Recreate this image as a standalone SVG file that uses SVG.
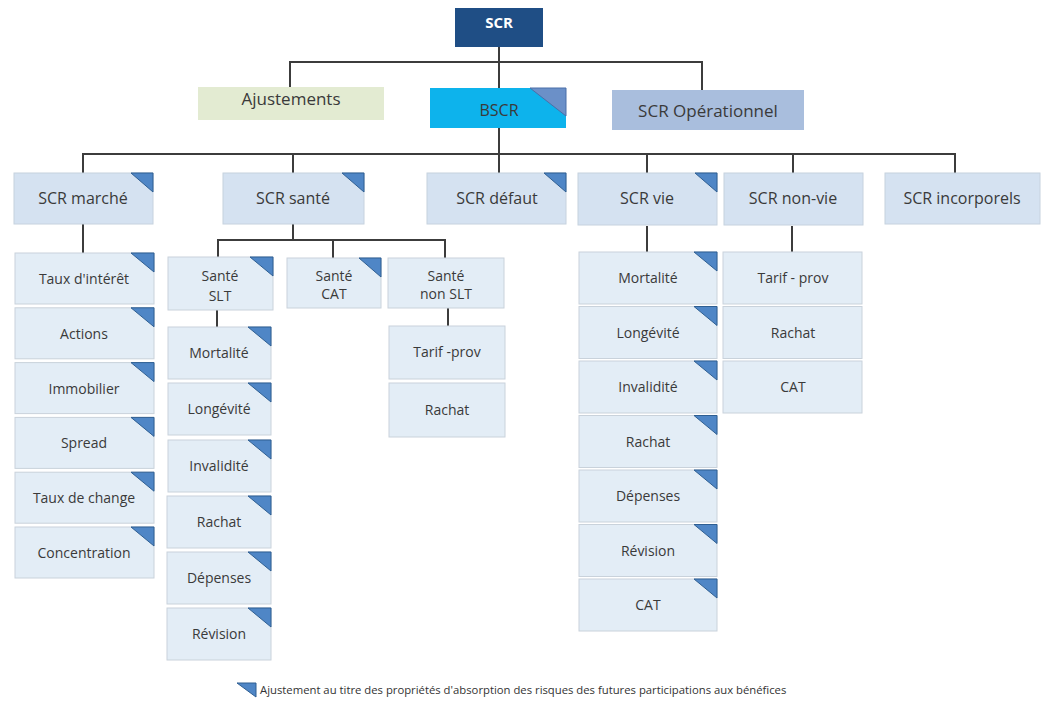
<svg xmlns="http://www.w3.org/2000/svg" width="1045" height="706" viewBox="0 0 1045 706">
<style>
text{font-family:"Open Sans","Liberation Sans",sans-serif;fill:#3a3a3a;text-anchor:middle}
.t1{font-size:17px}
.t2{font-size:16px}
.t3{font-size:14px}
.top{fill:#1f4e85}
.l2{fill:#d5e2f1;stroke:#c6d2de;stroke-width:1}
.leaf{fill:#e3edf6;stroke:#c9d2db;stroke-width:1}
.tri{fill:#4f86c6;stroke:#2f5f92;stroke-width:1}
.con line{stroke:#3c3c3c;stroke-width:2;fill:none}
</style>
<rect width="1045" height="706" fill="#ffffff"/>
<g class="con">
<line x1="499" y1="47" x2="499" y2="88"/>
<line x1="289" y1="62" x2="703" y2="62"/>
<line x1="290" y1="61" x2="290" y2="87"/>
<line x1="702" y1="61" x2="702" y2="90"/>
<line x1="499" y1="128" x2="499" y2="173"/>
<line x1="82" y1="154" x2="956" y2="154"/>
<line x1="83" y1="153" x2="83" y2="173"/>
<line x1="293" y1="153" x2="293" y2="173"/>
<line x1="647" y1="153" x2="647" y2="173"/>
<line x1="793" y1="153" x2="793" y2="173"/>
<line x1="955" y1="153" x2="955" y2="173"/>
<line x1="83" y1="224" x2="83" y2="253"/>
<line x1="293" y1="224" x2="293" y2="240"/>
<line x1="217" y1="240" x2="446" y2="240"/>
<line x1="218" y1="239" x2="218" y2="257"/>
<line x1="333" y1="239" x2="333" y2="258"/>
<line x1="445" y1="239" x2="445" y2="258"/>
<line x1="217" y1="310" x2="217" y2="327"/>
<line x1="448" y1="308" x2="448" y2="326"/>
<line x1="647" y1="226" x2="647" y2="252"/>
<line x1="792" y1="226" x2="792" y2="252"/>
</g>
<g id="scr"><rect class="top" x="455" y="8" width="88" height="39"/><text x="499" y="28" style="font-size:15px;font-weight:bold;fill:#ffffff">SCR</text></g>
<g id="ajustements"><rect x="198" y="87" width="186" height="33" fill="#e3ebd2"/><text class="t1" x="291" y="105">Ajustements</text></g>
<g id="bscr"><rect x="430" y="88" width="136" height="40" fill="#0db3ec"/><polygon points="530,88 566,88 566,116" fill="#6b90c8" stroke="#4a6fa8" stroke-width="1"/><text class="t2" x="499" y="116">BSCR</text></g>
<g id="scr-op"><rect x="612" y="90" width="192" height="40" fill="#a9bedd"/><text class="t1" x="708" y="117">SCR Opérationnel</text></g>

<g id="scr-marche"><rect class="l2" x="14" y="173" width="139" height="51"/><polygon class="tri" points="131,173 153,173 153,192"/><text class="t2" x="83" y="204">SCR marché</text></g>
<g id="scr-sante"><rect class="l2" x="223" y="173" width="141" height="51"/><polygon class="tri" points="342,173 364,173 364,192"/><text class="t2" x="293" y="204">SCR santé</text></g>
<g id="scr-defaut"><rect class="l2" x="427" y="173" width="139" height="51"/><polygon class="tri" points="544,173 566,173 566,192"/><text class="t2" x="497" y="204">SCR défaut</text></g>
<g id="scr-vie"><rect class="l2" x="578" y="173" width="139" height="52"/><polygon class="tri" points="695,173 717,173 717,192"/><text class="t2" x="647" y="204">SCR vie</text></g>
<g id="scr-nonvie"><rect class="l2" x="724" y="173" width="139" height="52"/><text class="t2" x="793" y="204">SCR non-vie</text></g>
<g id="scr-incorporels"><rect class="l2" x="885" y="173" width="155" height="51"/><text class="t2" x="962" y="204">SCR incorporels</text></g>

<g id="m-taux"><rect class="leaf" x="15" y="253" width="139" height="51"/><polygon class="tri" points="131,253 154,253 154,272"/><text class="t3" x="84" y="284">Taux d'intérêt</text></g>
<g id="m-actions"><rect class="leaf" x="15" y="307.8" width="139" height="51"/><polygon class="tri" points="131,307.8 154,307.8 154,326.8"/><text class="t3" x="84" y="338.8">Actions</text></g>
<g id="m-immo"><rect class="leaf" x="15" y="362.6" width="139" height="51"/><polygon class="tri" points="131,362.6 154,362.6 154,381.6"/><text class="t3" x="84" y="393.6">Immobilier</text></g>
<g id="m-spread"><rect class="leaf" x="15" y="417.4" width="139" height="51"/><polygon class="tri" points="131,417.4 154,417.4 154,436.4"/><text class="t3" x="84" y="448.4">Spread</text></g>
<g id="m-change"><rect class="leaf" x="15" y="472.2" width="139" height="51"/><polygon class="tri" points="131,472.2 154,472.2 154,491.2"/><text class="t3" x="84" y="503.2">Taux de change</text></g>
<g id="m-conc"><rect class="leaf" x="15" y="527" width="139" height="51"/><polygon class="tri" points="131,527 154,527 154,546"/><text class="t3" x="84" y="558">Concentration</text></g>

<g id="sante-slt"><rect class="leaf" x="168" y="257" width="105" height="53"/><polygon class="tri" points="250,257 273,257 273,276"/><text class="t3" x="220" y="281">Santé</text><text class="t3" x="220" y="301">SLT</text></g>
<g id="sante-cat"><rect class="leaf" x="287" y="258" width="94" height="50"/><polygon class="tri" points="359,258 381,258 381,277"/><text class="t3" x="334" y="281">Santé</text><text class="t3" x="334" y="299">CAT</text></g>
<g id="sante-nonslt"><rect class="leaf" x="388" y="258" width="116" height="50"/><text class="t3" x="446" y="281">Santé</text><text class="t3" x="446" y="299">non SLT</text></g>

<g id="s-mort"><rect class="leaf" x="168" y="327" width="103" height="52"/><polygon class="tri" points="248,327 271,327 271,346"/><text class="t3" x="219" y="358">Mortalité</text></g>
<g id="s-long"><rect class="leaf" x="168" y="383" width="103" height="52"/><polygon class="tri" points="248,383 271,383 271,402"/><text class="t3" x="219" y="414">Longévité</text></g>
<g id="s-inv"><rect class="leaf" x="168" y="440" width="103" height="52"/><polygon class="tri" points="248,440 271,440 271,459"/><text class="t3" x="219" y="471">Invalidité</text></g>
<g id="s-rachat"><rect class="leaf" x="167" y="496" width="104" height="52"/><polygon class="tri" points="248,496 271,496 271,515"/><text class="t3" x="219" y="527">Rachat</text></g>
<g id="s-dep"><rect class="leaf" x="167" y="552" width="104" height="52"/><polygon class="tri" points="248,552 271,552 271,571"/><text class="t3" x="219" y="583">Dépenses</text></g>
<g id="s-rev"><rect class="leaf" x="167" y="608" width="104" height="52"/><polygon class="tri" points="248,608 271,608 271,627"/><text class="t3" x="219" y="639">Révision</text></g>

<g id="n-tarif"><rect class="leaf" x="389" y="326" width="116" height="53"/><text class="t3" x="447" y="357">Tarif -prov</text></g>
<g id="n-rachat"><rect class="leaf" x="389" y="383" width="116" height="54"/><text class="t3" x="447" y="415">Rachat</text></g>

<g id="v-mort"><rect class="leaf" x="579" y="252" width="138" height="52"/><polygon class="tri" points="694,252 717,252 717,271"/><text class="t3" x="648" y="283">Mortalité</text></g>
<g id="v-long"><rect class="leaf" x="579" y="306.5" width="138" height="52"/><polygon class="tri" points="694,306.5 717,306.5 717,325.5"/><text class="t3" x="648" y="337.5">Longévité</text></g>
<g id="v-inv"><rect class="leaf" x="579" y="361" width="138" height="52"/><polygon class="tri" points="694,361 717,361 717,380"/><text class="t3" x="648" y="392">Invalidité</text></g>
<g id="v-rachat"><rect class="leaf" x="579" y="415.5" width="138" height="52"/><polygon class="tri" points="694,415.5 717,415.5 717,434.5"/><text class="t3" x="648" y="446.5">Rachat</text></g>
<g id="v-dep"><rect class="leaf" x="579" y="470" width="138" height="52"/><polygon class="tri" points="694,470 717,470 717,489"/><text class="t3" x="648" y="501">Dépenses</text></g>
<g id="v-rev"><rect class="leaf" x="579" y="524.5" width="138" height="52"/><polygon class="tri" points="694,524.5 717,524.5 717,543.5"/><text class="t3" x="648" y="555.5">Révision</text></g>
<g id="v-cat"><rect class="leaf" x="579" y="579" width="138" height="52"/><polygon class="tri" points="694,579 717,579 717,598"/><text class="t3" x="648" y="610">CAT</text></g>

<g id="nv-tarif"><rect class="leaf" x="723" y="252" width="139" height="52"/><text class="t3" x="793" y="283">Tarif - prov</text></g>
<g id="nv-rachat"><rect class="leaf" x="723" y="306.5" width="139" height="52"/><text class="t3" x="793" y="337.5">Rachat</text></g>
<g id="nv-cat"><rect class="leaf" x="723" y="361" width="139" height="52"/><text class="t3" x="793" y="392">CAT</text></g>

<g id="legend"><polygon class="tri" points="237,683 256,683 256,697"/><text x="260" y="694" style="font-size:11.3px;text-anchor:start;fill:#333333">Ajustement au titre des propriétés d'absorption des risques des futures participations aux bénéfices</text></g>
</svg>
